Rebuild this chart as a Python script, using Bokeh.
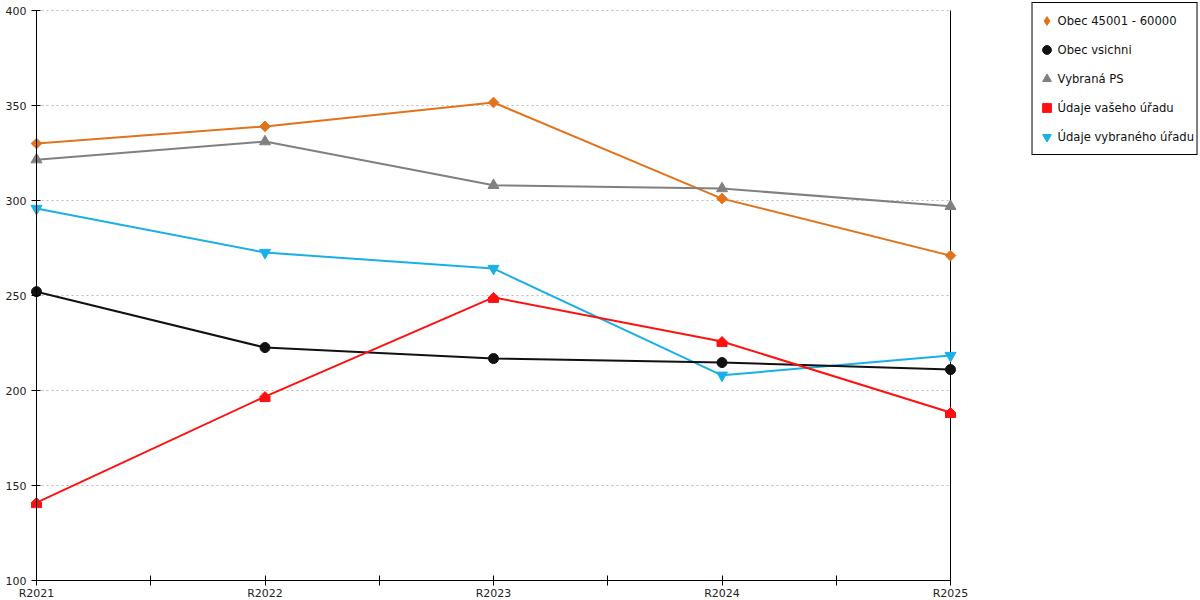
import math
from bokeh.plotting import figure
from bokeh.models import (ColumnDataSource, FixedTicker, Legend, LegendItem,
                          Range1d)
from bokeh.embed import file_html
from bokeh.resources import INLINE

# ---- data ----
years = ["R2021", "R2022", "R2023", "R2024", "R2025"]
obec_45001_60000 = [330, 339, 351.6, 301, 271]
obec_vsichni = [252, 222.6, 216.8, 214.7, 211]
vybrana_ps = [321.5, 331, 308, 306.3, 297]
udaje_vaseho = [141, 196.8, 249, 225.8, 188.4]
udaje_vybraneho = [295.8, 272.6, 264.2, 208, 218.4]

series_names = ["Obec 45001 - 60000", "Obec vsichni", "Vybraná PS",
                "Údaje vašeho úřadu", "Údaje vybraného úřadu"]
y_ticks = [100, 150, 200, 250, 300, 350, 400]

# ---- style / layout ----
FONT = "DejaVu Sans"
C_ORANGE = "#e2731a"
C_BLACK = "#111111"
C_GRAY = "#808080"
C_RED = "#ff1010"
C_CYAN = "#19b0e8"

W, H = 1200, 600
PLOT_LEFT = 36        # screen x of first category
PLOT_RIGHT = 950      # screen x of last category
PLOT_TOP = 10         # screen y of top tick
PLOT_BOTTOM = 580     # screen y of bottom tick

x = list(range(len(years)))
n_int = len(years) - 1
Y0, Y1 = y_ticks[0], y_ticks[-1]
px_x = (PLOT_RIGHT - PLOT_LEFT) / n_int
px_y = (PLOT_BOTTOM - PLOT_TOP) / (Y1 - Y0)

x_start = -PLOT_LEFT / px_x
x_end = (W - PLOT_LEFT) / px_x
y_end = Y1 + PLOT_TOP / px_y
y_start = Y0 - (H - PLOT_BOTTOM) / px_y

p = figure(width=W, height=H, output_backend="svg", toolbar_location=None,
           x_range=Range1d(x_start, x_end), y_range=Range1d(y_start, y_end),
           min_border=0)
p.outline_line_color = None
p.background_fill_color = "white"
p.border_fill_color = "white"

# x axis drawn at y = lowest tick
xa = p.xaxis[0]
xa.fixed_location = Y0
half_ticks = [i * 0.5 for i in range(2 * n_int + 1)]
xa.ticker = FixedTicker(ticks=half_ticks)
xa.bounds = (0, n_int)
xa.major_label_overrides = {i: years[i] for i in x}
xa.major_label_overrides.update({t: "" for t in half_ticks if not float(t).is_integer()})
xa.minor_tick_line_color = None
xa.major_tick_in = 5
xa.major_tick_out = 5
xa.major_label_standoff = 1
xa.axis_line_color = "black"
xa.major_tick_line_color = "black"
xa.major_label_text_font = FONT
xa.major_label_text_font_size = "11px"
xa.major_label_text_color = "#222222"

# y axis drawn at x = first category
ya = p.yaxis[0]
ya.fixed_location = 0
ya.bounds = (Y0, Y1)
ya.ticker = FixedTicker(ticks=y_ticks)
ya.minor_tick_line_color = None
ya.major_tick_in = 4
ya.major_tick_out = 5
ya.major_label_standoff = 5
ya.axis_line_color = "black"
ya.major_tick_line_color = "black"
ya.major_label_text_font = FONT
ya.major_label_text_font_size = "11px"
ya.major_label_text_color = "#222222"

p.xgrid.grid_line_color = None
p.ygrid.grid_line_color = None

# dashed horizontal grid lines between first and last category
gy = y_ticks[1:]
p.segment(x0=[0] * len(gy), x1=[n_int] * len(gy), y0=gy, y1=gy,
          line_color="#bbbbbb", line_dash="2 3", line_width=1)
# vertical line at last category
p.segment(x0=[n_int], x1=[n_int], y0=[Y0], y1=[Y1], line_color="black",
          line_width=1)

LW = 2

# orange - diamonds
s_or = ColumnDataSource(dict(x=x, y=obec_45001_60000))
p.line("x", "y", source=s_or, color=C_ORANGE, line_width=LW)
p.scatter("x", "y", source=s_or, marker="square", angle=math.pi / 4,
          size=7.5, color=C_ORANGE)

# gray - triangles
s_gr = ColumnDataSource(dict(x=x, y=vybrana_ps))
p.line("x", "y", source=s_gr, color=C_GRAY, line_width=LW)
r_gr = p.scatter("x", "y", source=s_gr, marker="triangle", size=11, color=C_GRAY)

# cyan - inverted triangles
s_cy = ColumnDataSource(dict(x=x, y=udaje_vybraneho))
p.line("x", "y", source=s_cy, color=C_CYAN, line_width=LW)
r_cy = p.scatter("x", "y", source=s_cy, marker="inverted_triangle", size=11,
                 color=C_CYAN)

# black - circles
s_bk = ColumnDataSource(dict(x=x, y=obec_vsichni))
p.line("x", "y", source=s_bk, color=C_BLACK, line_width=LW)
r_bk = p.scatter("x", "y", source=s_bk, marker="circle", size=10, color=C_BLACK)

# red - house markers (roof = rotated square, body = rectangle below centre)
body_shift = 2.5 / px_y
s_rd = ColumnDataSource(dict(x=x, y=udaje_vaseho,
                             yb=[v - body_shift for v in udaje_vaseho]))
p.line("x", "y", source=s_rd, color=C_RED, line_width=LW)
p.scatter("x", "y", source=s_rd, marker="square", angle=math.pi / 4, size=7.07,
          color=C_RED)
p.rect("x", "yb", source=s_rd, width=10, height=5, width_units="screen",
       height_units="screen", color=C_RED)

# legend-only renderers (one NaN row each, never drawn on the chart)
nan_src = ColumnDataSource(dict(x=[float("nan")], y=[float("nan")]))
lg_dm = p.scatter("x", "y", source=nan_src, marker="diamond", size=10, color=C_ORANGE)
lg_sq = p.scatter("x", "y", source=nan_src, marker="square", size=8, color=C_RED)
lg_tr = p.scatter("x", "y", source=nan_src, marker="triangle", size=8, color=C_RED)

legend = Legend(items=[
    LegendItem(label=series_names[0], renderers=[lg_dm]),
    LegendItem(label=series_names[1], renderers=[r_bk]),
    LegendItem(label=series_names[2], renderers=[r_gr]),
    LegendItem(label=series_names[3], renderers=[lg_sq, lg_tr]),
    LegendItem(label=series_names[4], renderers=[r_cy]),
])
legend.location = "top_right"
legend.orientation = "vertical"
legend.border_line_color = "black"
legend.border_line_width = 1
legend.border_line_alpha = 1
legend.background_fill_color = "white"
legend.background_fill_alpha = 1
legend.label_text_font = FONT
legend.label_text_font_size = "11.6px"
legend.label_text_color = "#111111"
legend.glyph_width = 22
legend.glyph_height = 29
legend.label_height = 29
legend.label_standoff = -3
legend.spacing = 0
legend.padding = 3
legend.margin = 2
p.add_layout(legend, "center")

open("out.html", "w").write(file_html(p, INLINE))
